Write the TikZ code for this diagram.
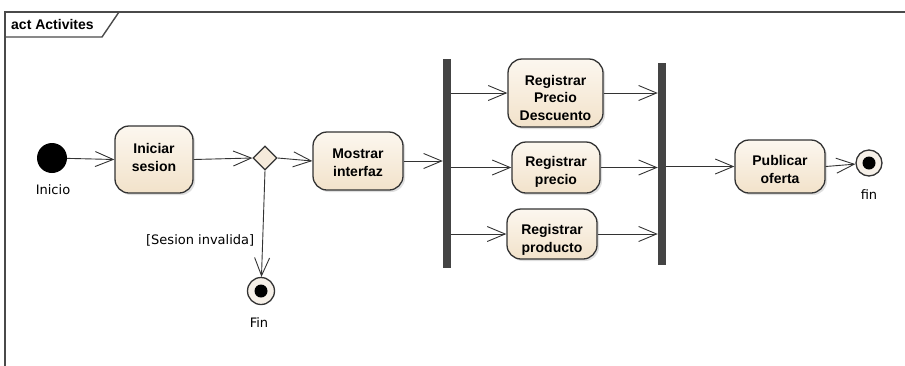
\documentclass[tikz,border=0pt]{standalone}
\usepackage{fontspec}
\setmainfont{DejaVu Sans}
\newfontfamily\boxfont{Liberation Sans}
\usetikzlibrary{arrows.meta,shapes.geometric,shadows}

\definecolor{edge}{HTML}{333333}
\definecolor{frameline}{HTML}{4A4A4A}
\definecolor{acttop}{HTML}{FCF7EF}
\definecolor{actbot}{HTML}{F2E2CA}
\definecolor{decfill}{HTML}{F5EADB}
\definecolor{endfill}{HTML}{F6F0E8}
\definecolor{barfill}{HTML}{444444}

% invisible struts that move a label's lines inside its box
\newcommand\topgap[1]{\rule{0pt}{#1}}
\newcommand\botgap[1]{\rule[-#1]{0pt}{#1}}

\begin{document}
\begin{tikzpicture}[x=1pt,y=-1pt,
  action/.style={draw=edge, line width=1.3pt, rounded corners=14pt,
    top color=acttop, bottom color=actbot,
    drop shadow={shadow xshift=2pt, shadow yshift=-2pt, opacity=0.25},
    font=\boxfont\bfseries\fontsize{14}{17.5}\selectfont, align=center, inner sep=0pt},
  bar/.style={draw=none, fill=barfill, minimum width=8pt, inner sep=0pt},
  decision/.style={diamond, draw=edge, line width=1.2pt, fill=decfill,
    minimum width=24pt, minimum height=24pt, inner sep=0pt},
  initial/.style={circle, fill=black, minimum size=30pt, inner sep=0pt},
  final/.style={circle, draw=edge, line width=1.3pt, fill=endfill,
    minimum size=27pt, inner sep=0pt,
    path picture={\fill[black] (path picture bounding box.center) circle (6.5pt);}},
  caption/.style={font=\fontsize{13}{15}\selectfont, inner sep=0pt},
  flow/.style={draw=edge, line width=0.9pt,
    -{Straight Barb[length=18pt,width=15pt,line width=0.9pt]}},
  frame/.style={draw=frameline, line width=1.4pt}]

\useasboundingbox (0,0) rectangle (905,365);

% diagram frame with its name tab
\draw[frame] (5,380) -- (5,12) -- (920,12);
\draw[frame] (5,37) -- (102,37) -- (119,12);
\node[anchor=west, inner sep=0pt, font=\boxfont\bfseries\fontsize{14}{16}\selectfont] (title) at (11,24.5) {act Activites};

% nodes
\node[initial] (ini) at (52,158) {};
\node[caption] (iniL) at (53,190) {Inicio};

\node[action, minimum width=78pt, minimum height=67pt] (login) at (154,159.5) {Iniciar\\sesion\botgap{4pt}};
\node[decision] (dec) at (265,158) {};
\node[action, minimum width=90pt, minimum height=58pt] (show) at (358,161) {\topgap{13.5pt}Mostrar\\interfaz};

\node[final] (endA) at (261,291) {};
\node[caption] (endAL) at (259,323) {Fin};

\node[bar, minimum height=209pt] (fork) at (447,163.5) {};
\node[action, minimum width=95pt, minimum height=68pt] (disc) at (555.5,93) {\topgap{19.5pt}Registrar\\Precio\\Descuento};
\node[action, minimum width=88pt, minimum height=51pt] (price) at (556,167.5) {\topgap{18.5pt}Registrar\\precio};
\node[action, minimum width=90pt, minimum height=50pt] (prod) at (552,234) {\topgap{22pt}Registrar\\producto};
\node[bar, minimum height=202pt] (join) at (662,164) {};

\node[action, minimum width=90pt, minimum height=53pt] (pub) at (780,166.5) {\topgap{16.5pt}Publicar\\oferta};
\node[final, minimum size=26pt] (endB) at (869,163) {};
\node[caption] (endBL) at (869,195) {fin};

% connectors
\draw[flow] (ini) -- (login.west);
\draw[flow] (login.east) -- (dec.west);
\draw[flow] (dec.east) -- (show.west);
\draw[flow] (dec.south) -- (endA)
  node[caption, pos=0.66, left=8pt] (guard) {[Sesion invalida]};
\draw[flow] (show.east) -- (show.east -| fork.west);

\draw[flow] (fork.east |- disc.west) -- (disc.west);
\draw[flow] (fork.east |- price.west) -- (price.west);
\draw[flow] (fork.east |- prod.west) -- (prod.west);

\draw[flow] (disc.east) -- (disc.east -| join.west);
\draw[flow] (price.east) -- (price.east -| join.west);
\draw[flow] (prod.east) -- (prod.east -| join.west);

\draw[flow] (join.east |- pub.west) -- (pub.west);
\draw[flow] (pub.east) -- (endB);
\end{tikzpicture}
\end{document}
